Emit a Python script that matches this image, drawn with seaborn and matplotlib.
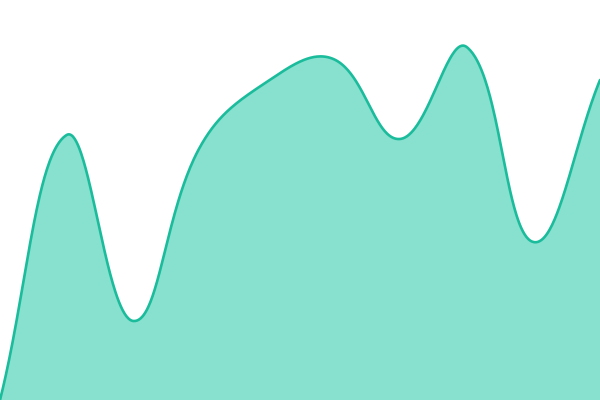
import numpy as np
import pandas as pd
import matplotlib
matplotlib.use("Agg")
import matplotlib.pyplot as plt
import seaborn as sns

x_vals = [0, 1, 2, 3, 4, 5, 6, 7, 8, 9]
y_vals = [0, 265, 79, 253, 318, 341, 261, 353, 158, 320]

W, H = 600.0, 400.0
X_MAX, Y_MAX = 9.0, 400.0
TENSION = 0.4

def spline_curve(x, y, t=TENSION, n=80):
    P = np.column_stack([np.asarray(x, float) * W / X_MAX, np.asarray(y, float) * H / Y_MAX])
    N = len(P)
    prev_c = np.zeros_like(P); next_c = np.zeros_like(P)
    for i in range(N):
        cur = P[i]
        prv = P[i-1] if i > 0 else cur
        nxt = P[i+1] if i < N - 1 else cur
        d01 = np.linalg.norm(cur - prv); d12 = np.linalg.norm(nxt - cur)
        tot = d01 + d12
        s01 = d01 / tot if tot else 0.0
        s12 = d12 / tot if tot else 0.0
        prev_c[i] = cur - t * s01 * (nxt - prv)
        next_c[i] = cur + t * s12 * (nxt - prv)
    prev_c[:, 0] = np.clip(prev_c[:, 0], 0, W); next_c[:, 0] = np.clip(next_c[:, 0], 0, W)
    prev_c[:, 1] = np.clip(prev_c[:, 1], 0, H); next_c[:, 1] = np.clip(next_c[:, 1], 0, H)
    out = []
    for i in range(N - 1):
        p1, c1, c2, p2 = P[i], next_c[i], prev_c[i+1], P[i+1]
        tt = np.linspace(0, 1, n, endpoint=(i == N - 2))[:, None]
        out.append((1-tt)**3*p1 + 3*(1-tt)**2*tt*c1 + 3*(1-tt)*tt**2*c2 + tt**3*p2)
    S = np.vstack(out)
    return S[:, 0] * X_MAX / W, S[:, 1] * Y_MAX / H

sx, sy = spline_curve(x_vals, y_vals)
df = pd.DataFrame({"x": sx, "y": sy})

sns.set_theme(style="white")
fig = plt.figure(figsize=(6, 4), dpi=100)
ax = fig.add_axes([0, 0, 1, 1])
ax.fill(np.concatenate([sx, [sx[-1], sx[0]]]), np.concatenate([sy, [0, 0]]),
        color="#88e0cf", linewidth=0)
sns.lineplot(data=df, x="x", y="y", ax=ax, color="#1abc9c", linewidth=1.9, sort=False)
ax.set_xlim(0, X_MAX)
ax.set_ylim(0, Y_MAX)
ax.axis("off")
fig.savefig("out.png", dpi=100)
